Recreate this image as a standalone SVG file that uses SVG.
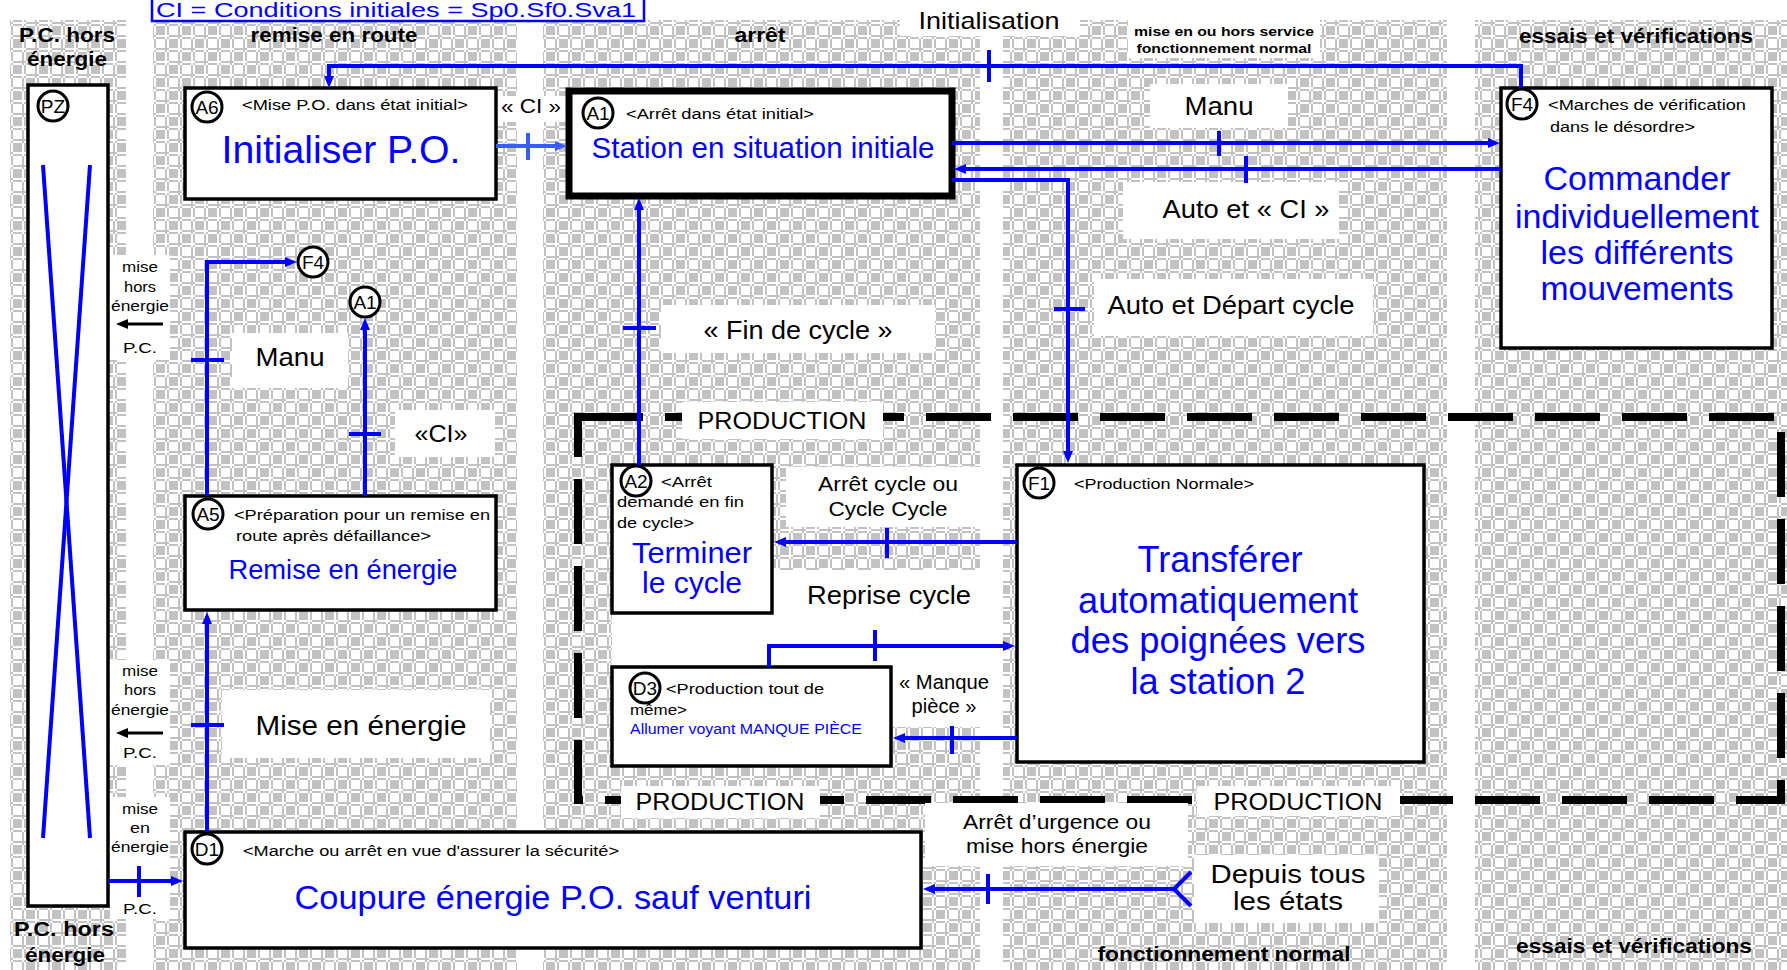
<svg xmlns="http://www.w3.org/2000/svg" width="1787" height="970" viewBox="0 0 1787 970">
  <defs>
    <!-- grey checker used for the zone backgrounds -->
    <pattern id="chk" width="26" height="26" patternUnits="userSpaceOnUse">
      <rect width="26" height="26" fill="#ffffff"/>
      <rect x="0" y="0" width="13" height="13" fill="#c2c2c2"/>
      <rect x="13" y="13" width="13" height="13" fill="#c2c2c2"/>
      <rect x="9" y="0" width="2" height="13" fill="#ffffff"/>
      <rect x="9" y="13" width="2" height="13" fill="#c2c2c2"/>
      <rect x="22" y="0" width="2" height="13" fill="#c2c2c2"/>
      <rect x="22" y="13" width="2" height="13" fill="#ffffff"/>
      <rect x="0" y="9" width="13" height="2" fill="#ffffff"/>
      <rect x="13" y="9" width="13" height="2" fill="#c2c2c2"/>
      <rect x="0" y="22" width="13" height="2" fill="#c2c2c2"/>
      <rect x="13" y="22" width="13" height="2" fill="#ffffff"/>
    </pattern>
    <marker id="ah" markerWidth="12" markerHeight="10" refX="1" refY="5" orient="auto" markerUnits="userSpaceOnUse">
      <path d="M0,0 L12,5 L0,10 z" fill="#0000ff"/>
    </marker>
    <marker id="ahl" markerWidth="12" markerHeight="10" refX="1" refY="5" orient="auto" markerUnits="userSpaceOnUse">
      <path d="M0,0 L12,5 L0,10 z" fill="#3a5cff"/>
    </marker>
    <marker id="ahk" markerWidth="12" markerHeight="10" refX="1" refY="5" orient="auto" markerUnits="userSpaceOnUse">
      <path d="M0,0 L12,5 L0,10 z" fill="#000000"/>
    </marker>
  </defs>
  <style>
    text { font-family: "Liberation Sans", Arial, sans-serif; }
    .box { fill: #ffffff; stroke: #000000; stroke-width: 3.5; }
    .lbl { fill: #ffffff; stroke: none; }
    .num circle { fill: #ffffff; stroke: #000000; stroke-width: 3; }
    .num text { font-size: 19px; text-anchor: middle; fill: #000000; }
    .hd { font-size: 20px; font-weight: bold; fill: #000000; text-anchor: middle; }
    .sub { font-size: 14px; fill: #000000; }
    .main { fill: #0000ff; text-anchor: middle; }
    .tx { fill: #000000; text-anchor: middle; }
    .sm { font-size: 15px; fill: #000000; text-anchor: middle; }
    .ln { fill: none; stroke: #0000ff; stroke-width: 4; }
    .tk { stroke: #0000ff; stroke-width: 4; }
  </style>

  <rect width="1787" height="970" fill="#ffffff"/>

  <!-- zone backgrounds -->
  <g id="zones">
    <rect x="10" y="20" width="116" height="950" fill="url(#chk)"/>
    <rect x="153" y="20" width="364" height="950" fill="url(#chk)"/>
    <rect x="543" y="20" width="437" height="950" fill="url(#chk)"/>
    <rect x="1003" y="20" width="444" height="950" fill="url(#chk)"/>
    <rect x="1475" y="20" width="312" height="950" fill="url(#chk)"/>
  </g>

  <!-- label plates -->
  <g id="plates">
    <rect class="lbl" x="900" y="4" width="180" height="32"/>
    <rect class="lbl" x="1128" y="20" width="192" height="38"/>
    <rect class="lbl" x="497" y="96" width="69" height="26"/>
    <rect class="lbl" x="1150" y="84" width="138" height="44"/>
    <rect class="lbl" x="1123" y="182" width="216" height="57"/>
    <rect class="lbl" x="1094" y="279" width="279" height="57"/>
    <rect class="lbl" x="661" y="305" width="274" height="48"/>
    <rect class="lbl" x="232" y="333" width="116" height="55"/>
    <rect class="lbl" x="395" y="410" width="100" height="47"/>
    <rect class="lbl" x="222" y="690" width="268" height="68"/>
    <rect class="lbl" x="786" y="467" width="206" height="60"/>
    <rect class="lbl" x="772" y="570" width="231" height="100"/>
    <rect class="lbl" x="612" y="613" width="170" height="57"/>
    <rect class="lbl" x="891" y="667" width="112" height="60"/>
    <rect class="lbl" x="1194" y="855" width="185" height="68"/>
    <rect class="lbl" x="110" y="255" width="60" height="105"/>
    <rect class="lbl" x="110" y="660" width="60" height="105"/>
    <rect class="lbl" x="110" y="797" width="60" height="122"/>
  </g>

  <!-- zone headers -->
  <g id="headers">
    <text class="hd" x="67" y="42" textLength="96" lengthAdjust="spacingAndGlyphs">P.C. hors</text>
    <text class="hd" x="67" y="66" textLength="80" lengthAdjust="spacingAndGlyphs">énergie</text>
    <text class="hd" x="334" y="42" textLength="167" lengthAdjust="spacingAndGlyphs">remise en route</text>
    <text class="hd" x="760" y="42" textLength="51" lengthAdjust="spacingAndGlyphs">arrêt</text>
    <text class="tx" x="989" y="29" font-size="24" textLength="141" lengthAdjust="spacingAndGlyphs">Initialisation</text>
    <text class="hd" x="1224" y="36" style="font-size:13px" textLength="180" lengthAdjust="spacingAndGlyphs">mise en ou hors service</text>
    <text class="hd" x="1224" y="53" style="font-size:13px" textLength="175" lengthAdjust="spacingAndGlyphs">fonctionnement normal</text>
    <text class="hd" x="1636" y="43" textLength="234" lengthAdjust="spacingAndGlyphs">essais et vérifications</text>
    <text class="hd" x="64" y="936" textLength="100" lengthAdjust="spacingAndGlyphs">P.C. hors</text>
    <text class="hd" x="65" y="962" textLength="80" lengthAdjust="spacingAndGlyphs">énergie</text>
    <text class="hd" x="1224" y="961" textLength="253" lengthAdjust="spacingAndGlyphs">fonctionnement normal</text>
    <text class="hd" x="1634" y="953" textLength="236" lengthAdjust="spacingAndGlyphs">essais et vérifications</text>
  </g>

  <!-- legend of the initial conditions -->
  <g id="legend">
    <rect x="152" y="-4" width="492" height="25" fill="#ffffff" stroke="#0000ff" stroke-width="2.5"/>
    <text x="156" y="17" font-size="20" fill="#0000ff" textLength="480" lengthAdjust="spacingAndGlyphs">CI = Conditions initiales = Sp0.Sf0.Sva1</text>
  </g>

  <!-- PRODUCTION envelope -->
  <g id="production">
    <rect x="578" y="417" width="1203" height="383" fill="none" stroke="#000000" stroke-width="8" stroke-dasharray="65 22"/>
    <rect class="lbl" x="682" y="402" width="201" height="37"/>
    <rect class="lbl" x="621" y="786" width="199" height="32"/>
    <rect class="lbl" x="1197" y="786" width="203" height="30"/>
    <rect class="lbl" x="925" y="803" width="263" height="63"/>
    <text class="tx" x="782" y="429" font-size="24" textLength="169" lengthAdjust="spacingAndGlyphs">PRODUCTION</text>
    <text class="tx" x="720" y="810" font-size="24" textLength="169" lengthAdjust="spacingAndGlyphs">PRODUCTION</text>
    <text class="tx" x="1298" y="810" font-size="24" textLength="169" lengthAdjust="spacingAndGlyphs">PRODUCTION</text>
  </g>

  <!-- PZ -->
  <g id="PZ">
    <rect class="box" x="28" y="85" width="80" height="821"/>
    <line x1="43" y1="165" x2="90" y2="838" stroke="#0000ff" stroke-width="4"/>
    <line x1="90" y1="165" x2="43" y2="838" stroke="#0000ff" stroke-width="4"/>
    <g class="num"><circle cx="53" cy="106" r="15"/><text x="53" y="113">PZ</text></g>
  </g>

  <!-- A6 -->
  <g id="A6">
    <rect class="box" x="185" y="88" width="311" height="111"/>
    <g class="num"><circle cx="207" cy="107" r="15"/><text x="207" y="114">A6</text></g>
    <text class="sub" x="242" y="110" textLength="226" lengthAdjust="spacingAndGlyphs">&lt;Mise P.O. dans état initial&gt;</text>
    <text class="main" x="341" y="163" font-size="38" textLength="239" lengthAdjust="spacingAndGlyphs">Initialiser P.O.</text>
  </g>

  <!-- A1 -->
  <g id="A1">
    <rect x="569" y="91" width="383" height="105" fill="#ffffff" stroke="#000000" stroke-width="7"/>
    <g class="num"><circle cx="598" cy="113" r="15"/><text x="598" y="120">A1</text></g>
    <text class="sub" x="626" y="119" textLength="188" lengthAdjust="spacingAndGlyphs">&lt;Arrêt dans état initial&gt;</text>
    <text class="main" x="763" y="158" font-size="29" textLength="343" lengthAdjust="spacingAndGlyphs">Station en situation initiale</text>
  </g>

  <!-- F4 -->
  <g id="F4">
    <rect class="box" x="1501" y="88" width="271" height="260"/>
    <g class="num"><circle cx="1522" cy="104" r="15"/><text x="1522" y="111">F4</text></g>
    <text class="sub" x="1548" y="110" textLength="198" lengthAdjust="spacingAndGlyphs">&lt;Marches de vérification</text>
    <text class="sub" x="1550" y="132" textLength="145" lengthAdjust="spacingAndGlyphs">dans le désordre&gt;</text>
    <text class="main" x="1637" y="190" font-size="34" textLength="187" lengthAdjust="spacingAndGlyphs">Commander</text>
    <text class="main" x="1637" y="228" font-size="34" textLength="244" lengthAdjust="spacingAndGlyphs">individuellement</text>
    <text class="main" x="1637" y="264" font-size="34" textLength="193" lengthAdjust="spacingAndGlyphs">les différents</text>
    <text class="main" x="1637" y="300" font-size="34" textLength="193" lengthAdjust="spacingAndGlyphs">mouvements</text>
  </g>

  <!-- A5 -->
  <g id="A5">
    <rect class="box" x="185" y="496" width="311" height="114"/>
    <g class="num"><circle cx="208" cy="514" r="15"/><text x="208" y="521">A5</text></g>
    <text class="sub" x="234" y="520" textLength="256" lengthAdjust="spacingAndGlyphs">&lt;Préparation pour un remise en</text>
    <text class="sub" x="236" y="541" textLength="195" lengthAdjust="spacingAndGlyphs">route après défaillance&gt;</text>
    <text class="main" x="343" y="579" font-size="27" textLength="229" lengthAdjust="spacingAndGlyphs">Remise en énergie</text>
  </g>

  <!-- references to other states -->
  <g id="ref-F4" class="num"><circle cx="313" cy="262" r="15"/><text x="313" y="269">F4</text></g>
  <g id="ref-A1" class="num"><circle cx="365" cy="302" r="15"/><text x="365" y="309">A1</text></g>

  <!-- A2 -->
  <g id="A2">
    <rect class="box" x="612" y="465" width="160" height="148"/>
    <g class="num"><circle cx="636" cy="481" r="15"/><text x="636" y="488">A2</text></g>
    <text class="sub" x="661" y="487" textLength="51" lengthAdjust="spacingAndGlyphs">&lt;Arrêt</text>
    <text class="sub" x="617" y="507" textLength="127" lengthAdjust="spacingAndGlyphs">demandé en fin</text>
    <text class="sub" x="617" y="528" textLength="77" lengthAdjust="spacingAndGlyphs">de cycle&gt;</text>
    <text class="main" x="692" y="563" font-size="30" textLength="120" lengthAdjust="spacingAndGlyphs">Terminer</text>
    <text class="main" x="692" y="593" font-size="30" textLength="100" lengthAdjust="spacingAndGlyphs">le cycle</text>
  </g>

  <!-- F1 -->
  <g id="F1">
    <rect class="box" x="1017" y="465" width="407" height="297" stroke-width="4"/>
    <g class="num"><circle cx="1039" cy="483" r="15"/><text x="1039" y="490">F1</text></g>
    <text class="sub" x="1074" y="489" textLength="180" lengthAdjust="spacingAndGlyphs">&lt;Production Normale&gt;</text>
    <text class="main" x="1220" y="572" font-size="36" textLength="165" lengthAdjust="spacingAndGlyphs">Transférer</text>
    <text class="main" x="1218" y="613" font-size="36" textLength="280" lengthAdjust="spacingAndGlyphs">automatiquement</text>
    <text class="main" x="1218" y="653" font-size="36" textLength="295" lengthAdjust="spacingAndGlyphs">des poignées vers</text>
    <text class="main" x="1218" y="694" font-size="36" textLength="175" lengthAdjust="spacingAndGlyphs">la station 2</text>
  </g>

  <!-- D3 -->
  <g id="D3">
    <rect class="box" x="612" y="667" width="279" height="99"/>
    <g class="num"><circle cx="645" cy="688" r="15"/><text x="645" y="695">D3</text></g>
    <text class="sub" x="666" y="694" textLength="158" lengthAdjust="spacingAndGlyphs">&lt;Production tout de</text>
    <text class="sub" x="630" y="715" textLength="57" lengthAdjust="spacingAndGlyphs">même&gt;</text>
    <text x="630" y="734" font-size="14" fill="#0000ff" textLength="232" lengthAdjust="spacingAndGlyphs">Allumer voyant MANQUE PIÈCE</text>
  </g>

  <!-- D1 -->
  <g id="D1">
    <rect class="box" x="185" y="832" width="736" height="116"/>
    <g class="num"><circle cx="207" cy="849" r="15"/><text x="207" y="856">D1</text></g>
    <text class="sub" x="243" y="856" textLength="376" lengthAdjust="spacingAndGlyphs">&lt;Marche ou arrêt en vue d'assurer la sécurité&gt;</text>
    <text class="main" x="553" y="909" font-size="34" textLength="517" lengthAdjust="spacingAndGlyphs">Coupure énergie P.O. sauf venturi</text>
  </g>

  <!-- transitions -->
  <g id="connectors">
    <path class="ln" d="M1521,88 V66 H329 V77" stroke-width="5" marker-end="url(#ah)"/>
    <line class="tk" x1="989" y1="50" x2="989" y2="82"/>

    <line x1="496" y1="146" x2="556" y2="146" stroke="#3a5cff" stroke-width="4" marker-end="url(#ahl)"/>
    <line x1="528" y1="133" x2="528" y2="160" stroke="#3a5cff" stroke-width="4"/>

    <line class="ln" x1="952" y1="143" x2="1489" y2="143" marker-end="url(#ah)"/>
    <line class="tk" x1="1219" y1="131" x2="1219" y2="156"/>

    <line class="ln" x1="1501" y1="169" x2="965" y2="169" marker-end="url(#ah)"/>
    <line class="tk" x1="1246" y1="156" x2="1246" y2="183"/>

    <path class="ln" d="M952,180 H1068 V452" stroke-width="3.5" marker-end="url(#ah)"/>
    <line class="tk" x1="1054" y1="309" x2="1085" y2="309"/>

    <line class="ln" x1="639" y1="465" x2="639" y2="209" stroke-width="3.5" marker-end="url(#ah)"/>
    <line class="tk" x1="623" y1="328" x2="656" y2="328"/>

    <path class="ln" d="M207,496 V262 H286" marker-end="url(#ah)"/>
    <line class="tk" x1="191" y1="360" x2="224" y2="360"/>

    <line class="ln" x1="365" y1="496" x2="365" y2="329" marker-end="url(#ah)"/>
    <line class="tk" x1="349" y1="434" x2="381" y2="434"/>

    <line class="ln" x1="207" y1="832" x2="207" y2="623" stroke-width="3.5" marker-end="url(#ah)"/>
    <line class="tk" x1="191" y1="725" x2="224" y2="725"/>

    <line class="ln" x1="108" y1="881" x2="172" y2="881" marker-end="url(#ah)"/>
    <line class="tk" x1="139" y1="866" x2="139" y2="897"/>

    <line class="ln" x1="1017" y1="542" x2="785" y2="542" stroke-width="5" marker-end="url(#ah)"/>
    <line class="tk" x1="887" y1="528" x2="887" y2="558"/>

    <path class="ln" d="M769,667 V646 H1004" stroke-width="3" marker-end="url(#ah)"/>
    <line class="tk" x1="875" y1="630" x2="875" y2="661"/>

    <line class="ln" x1="1017" y1="738" x2="904" y2="738" marker-end="url(#ah)"/>
    <line class="tk" x1="952" y1="726" x2="952" y2="754"/>

    <line class="ln" x1="1174" y1="889" x2="934" y2="889" marker-end="url(#ah)"/>
    <path class="ln" d="M1191,872 L1174,889 L1191,906"/>
    <line class="tk" x1="988" y1="874" x2="988" y2="904"/>

    <line x1="163" y1="324" x2="127" y2="324" stroke="#000000" stroke-width="3" marker-end="url(#ahk)"/>
    <line x1="163" y1="733" x2="127" y2="733" stroke="#000000" stroke-width="3" marker-end="url(#ahk)"/>
  </g>

  <!-- transition labels -->
  <g id="labels">
    <text class="tx" x="531" y="113" font-size="20" textLength="60" lengthAdjust="spacingAndGlyphs">« CI »</text>
    <text class="tx" x="1219" y="115" font-size="26" textLength="69" lengthAdjust="spacingAndGlyphs">Manu</text>
    <text class="tx" x="1246" y="218" font-size="26" textLength="167" lengthAdjust="spacingAndGlyphs">Auto et « CI »</text>
    <text class="tx" x="1231" y="314" font-size="26" textLength="247" lengthAdjust="spacingAndGlyphs">Auto et Départ cycle</text>
    <text class="tx" x="798" y="339" font-size="26" textLength="189" lengthAdjust="spacingAndGlyphs">« Fin de cycle »</text>
    <text class="tx" x="290" y="366" font-size="26" textLength="69" lengthAdjust="spacingAndGlyphs">Manu</text>
    <text class="tx" x="441" y="442" font-size="24" textLength="53" lengthAdjust="spacingAndGlyphs">«CI»</text>
    <text class="tx" x="361" y="735" font-size="28" textLength="211" lengthAdjust="spacingAndGlyphs">Mise en énergie</text>
    <text class="tx" x="888" y="491" font-size="21" textLength="140" lengthAdjust="spacingAndGlyphs">Arrêt cycle ou</text>
    <text class="tx" x="888" y="516" font-size="21" textLength="119" lengthAdjust="spacingAndGlyphs">Cycle Cycle</text>
    <text class="tx" x="889" y="604" font-size="25" textLength="164" lengthAdjust="spacingAndGlyphs">Reprise cycle</text>
    <text class="tx" x="944" y="689" font-size="20" textLength="90" lengthAdjust="spacingAndGlyphs">« Manque</text>
    <text class="tx" x="944" y="713" font-size="20" textLength="65" lengthAdjust="spacingAndGlyphs">pièce »</text>
    <text class="tx" x="1057" y="829" font-size="21" textLength="188" lengthAdjust="spacingAndGlyphs">Arrêt d’urgence ou</text>
    <text class="tx" x="1057" y="853" font-size="21" textLength="182" lengthAdjust="spacingAndGlyphs">mise hors énergie</text>
    <text class="tx" x="1288" y="883" font-size="26" textLength="155" lengthAdjust="spacingAndGlyphs">Depuis tous</text>
    <text class="tx" x="1288" y="910" font-size="26" textLength="110" lengthAdjust="spacingAndGlyphs">les états</text>

    <text class="sm" x="140" y="272" textLength="36" lengthAdjust="spacingAndGlyphs">mise</text>
    <text class="sm" x="140" y="292" textLength="32" lengthAdjust="spacingAndGlyphs">hors</text>
    <text class="sm" x="140" y="311" textLength="58" lengthAdjust="spacingAndGlyphs">énergie</text>
    <text class="sm" x="140" y="353" textLength="34" lengthAdjust="spacingAndGlyphs">P.C.</text>
    <text class="sm" x="140" y="676" textLength="36" lengthAdjust="spacingAndGlyphs">mise</text>
    <text class="sm" x="140" y="695" textLength="32" lengthAdjust="spacingAndGlyphs">hors</text>
    <text class="sm" x="140" y="715" textLength="58" lengthAdjust="spacingAndGlyphs">énergie</text>
    <text class="sm" x="140" y="758" textLength="34" lengthAdjust="spacingAndGlyphs">P.C.</text>
    <text class="sm" x="140" y="814" textLength="36" lengthAdjust="spacingAndGlyphs">mise</text>
    <text class="sm" x="140" y="833" textLength="20" lengthAdjust="spacingAndGlyphs">en</text>
    <text class="sm" x="140" y="852" textLength="58" lengthAdjust="spacingAndGlyphs">énergie</text>
    <text class="sm" x="140" y="914" textLength="34" lengthAdjust="spacingAndGlyphs">P.C.</text>
  </g>
</svg>
